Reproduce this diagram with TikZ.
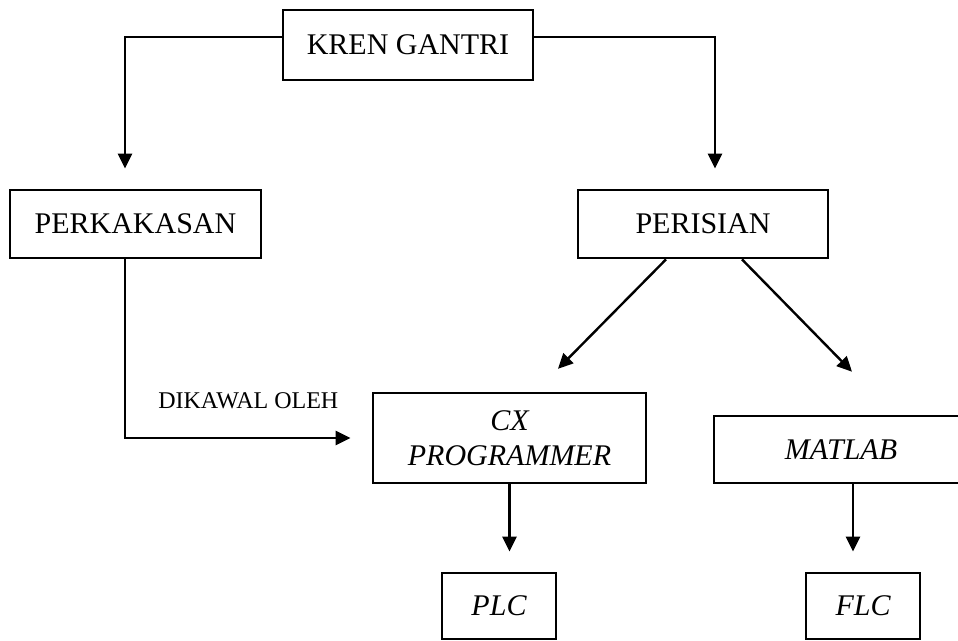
\documentclass[tikz,border=0pt]{standalone}
\usepackage{fontspec}
\setmainfont{Liberation Serif}
\usetikzlibrary{arrows.meta}
\begin{document}
\begin{tikzpicture}[x=0.5pt, y=-0.5pt, line width=1.2pt,
    >={Triangle[length=7.5pt,width=7pt]},
    box/.style={draw, line width=1.4pt, inner sep=0pt, align=center,
        font=\fontsize{15}{17.5}\selectfont},
    ibox/.style={box, font=\fontsize{15}{17.5}\selectfont\itshape},
    lbl/.style={font=\fontsize{12}{14}\selectfont, inner sep=1pt},
    arr/.style={->, shorten >=10pt}]
    \clip (0,0) rectangle (958,641);
    \fill[white] (0,0) rectangle (958,641);
    \node[box, minimum width=125pt, minimum height=35pt] (kren) at (408,45) {KREN GANTRI};
    \node[box, minimum width=125.5pt, minimum height=34pt] (perkakasan) at (135.5,224) {PERKAKASAN};
    \node[box, minimum width=125pt, minimum height=34pt] (perisian) at (703,224) {PERISIAN};
    \node[ibox, minimum width=136.5pt, minimum height=45pt] (cx) at (509.5,438) {CX\\PROGRAMMER};
    \node[ibox, minimum width=127pt, minimum height=33.5pt] (matlab) at (841,449.5) {MATLAB};
    \node[ibox, minimum width=57pt, minimum height=33pt] (plc) at (499,606) {PLC};
    \node[ibox, minimum width=57pt, minimum height=33pt] (flc) at (863,606) {FLC};
    \draw[arr] ([yshift=4pt]kren.west) -| ([xshift=-5.25pt]perkakasan.north);
    \draw[arr] ([yshift=4pt]kren.east) -| ([xshift=6pt]perisian.north);
    \draw[arr, shorten >=16pt] ([xshift=-18.5pt]perisian.south) -- ([xshift=13pt]cx.north);
    \draw[arr, shorten >=30pt] ([xshift=19.5pt]perisian.south) -- ([xshift=26.5pt]matlab.north);
    \draw[arr, shorten >=10.5pt] ([xshift=-5.25pt]perkakasan.south) |-
        node[lbl, pos=0.75, above=13pt] {DIKAWAL OLEH} (cx.west);
    \draw[arr] (cx.south) -- (cx.south |- plc.north);
    \draw[arr] ([xshift=6pt]matlab.south) coordinate (m) -- (m |- flc.north);
\end{tikzpicture}
\end{document}
